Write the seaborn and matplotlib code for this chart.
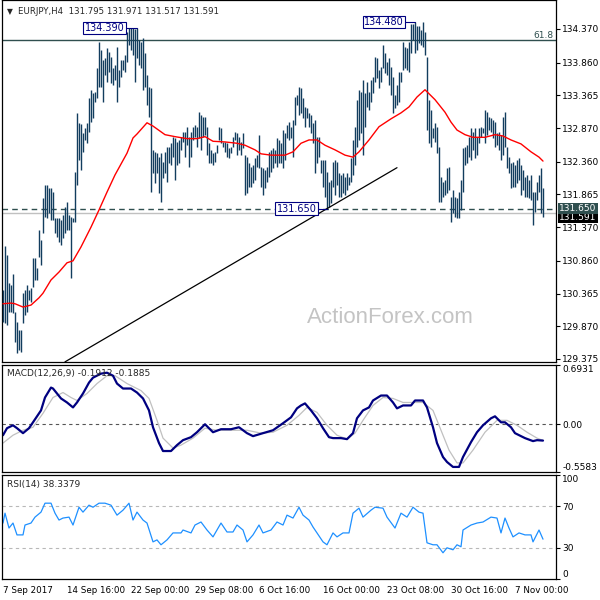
import matplotlib
matplotlib.use("Agg")
import numpy as np
import seaborn as sns
import matplotlib.pyplot as plt
import matplotlib.transforms as mtransforms

# EURJPY H4 bars, one per 4h period (index 0 = 7 Sep 2017 00:00)
highs = [
    130.42, 131.09, 130.95, 130.52, 130.49, 130.66, 130.09, 129.93, 129.81, 129.81,
    130.37, 130.42, 130.49, 130.42, 130.45, 130.90, 130.90, 130.75, 131.33, 131.18,
    131.81, 132.01, 132.01, 131.96, 131.96, 131.90, 131.51, 131.51, 131.51, 131.48,
    131.55, 131.68, 131.75, 131.55, 131.52, 131.51, 132.20, 133.10, 132.95, 132.93,
    132.80, 132.87, 132.95, 133.33, 133.45, 133.40, 133.42, 133.78, 134.17, 134.05,
    133.90, 133.93, 134.08, 134.02, 133.95, 133.78, 133.83, 134.10, 133.75, 133.90,
    133.90, 133.98, 134.32, 134.39, 134.39, 134.38, 134.37, 134.39, 134.20, 134.17,
    134.23, 134.01, 133.67, 133.49, 133.48, 132.54, 132.51, 132.49, 132.43, 132.49,
    132.36, 132.51, 132.58, 132.58, 132.64, 132.73, 132.72, 132.66, 132.69, 132.73,
    132.81, 132.81, 132.89, 132.73, 132.81, 132.89, 132.92, 132.89, 133.11, 133.07,
    133.04, 133.04, 132.89, 132.64, 132.54, 132.49, 132.51, 132.61, 132.89, 132.87,
    132.66, 132.66, 132.64, 132.57, 132.58, 132.73, 132.81, 132.80, 132.73, 132.66,
    132.80, 132.46, 132.43, 132.34, 132.28, 132.31, 132.42, 132.46, 132.76, 132.28,
    132.27, 132.23, 132.28, 132.51, 132.54, 132.57, 132.54, 132.72, 132.69, 132.64,
    132.84, 132.80, 132.92, 132.96, 132.89, 132.99, 133.34, 133.37, 133.49, 133.48,
    133.33, 133.19, 133.17, 133.10, 133.07, 132.95, 132.99, 132.73, 132.73, 132.39,
    132.39, 132.39, 132.20, 132.05, 132.08, 132.36, 132.39, 132.36, 132.19, 132.16,
    132.19, 132.13, 132.19, 132.13, 132.42, 132.69, 132.89, 133.30, 133.45, 133.42,
    133.60, 133.40, 133.57, 133.42, 133.60, 133.64, 133.95, 133.93, 133.75, 133.79,
    134.13, 134.01, 133.87, 133.93, 133.79, 133.64, 133.37, 133.52, 133.72, 133.72,
    134.17, 134.10, 134.08, 134.17, 134.45, 134.44, 134.48, 134.42, 134.42, 134.36,
    134.47, 134.32, 133.95, 133.30, 133.14, 132.87, 132.95, 132.89, 132.58, 132.13,
    132.05, 132.08, 132.27, 132.28, 131.83, 131.93, 131.83, 131.81, 131.90, 132.08,
    132.57, 132.58, 132.61, 132.73, 132.87, 132.81, 132.87, 132.73, 132.87, 132.89,
    132.87, 133.14, 133.11, 133.04, 133.02, 132.99, 132.96, 132.80, 132.81, 132.76,
    133.04, 133.11, 132.58, 132.43, 132.34, 132.36, 132.31, 132.39, 132.42, 132.31,
    132.23, 132.13, 132.16, 132.08, 132.16, 131.90, 131.90, 132.05, 132.16, 132.27,
    131.97,
]
lows = [
    129.93, 129.92, 129.89, 130.09, 130.09, 130.07, 129.63, 129.46, 129.51, 129.48,
    129.92, 130.04, 130.09, 130.27, 130.24, 130.46, 130.57, 130.57, 130.92, 130.80,
    131.28, 131.52, 131.51, 131.58, 131.48, 131.48, 131.28, 131.22, 131.15, 131.10,
    131.21, 131.28, 131.33, 131.33, 130.60, 131.45, 131.45, 132.01, 132.39, 132.23,
    132.51, 132.69, 132.64, 132.81, 132.96, 133.02, 133.27, 133.33, 133.49, 133.49,
    133.27, 133.67, 133.57, 133.72, 133.55, 133.52, 133.60, 133.27, 133.49, 133.64,
    133.75, 133.72, 133.87, 134.13, 134.05, 133.98, 133.57, 133.93, 133.83, 133.78,
    133.45, 133.49, 133.22, 133.04, 131.90, 132.19, 132.04, 132.19, 131.89, 131.75,
    132.11, 132.19, 132.05, 132.34, 132.31, 132.43, 132.08, 132.31, 132.34, 132.54,
    132.66, 132.43, 132.61, 132.28, 132.43, 132.69, 132.73, 132.58, 132.72, 132.54,
    132.73, 132.76, 132.46, 132.34, 132.34, 132.31, 132.36, 132.49, 132.69, 132.64,
    132.58, 132.51, 132.43, 132.42, 132.49, 132.58, 132.69, 132.46, 132.54, 132.46,
    132.57, 131.86, 131.89, 131.98, 131.98, 132.04, 132.08, 132.28, 132.27, 131.98,
    131.86, 131.96, 132.05, 132.13, 132.20, 132.27, 132.34, 132.28, 132.34, 132.34,
    132.27, 132.39, 132.72, 132.69, 132.72, 132.43, 132.92, 133.22, 133.07, 133.10,
    133.02, 132.89, 133.02, 132.89, 132.80, 132.64, 132.19, 132.34, 132.43, 132.19,
    131.98, 131.83, 131.65, 131.67, 131.74, 131.98, 131.86, 132.01, 131.83, 131.83,
    131.89, 131.86, 131.93, 132.01, 132.05, 132.16, 132.31, 132.58, 132.69, 132.80,
    132.46, 132.89, 133.19, 133.14, 133.27, 133.40, 133.57, 133.63, 133.48, 133.57,
    133.78, 133.70, 133.67, 133.52, 133.37, 133.10, 133.17, 133.22, 133.27, 133.57,
    133.75, 133.78, 133.75, 133.72, 134.01, 134.20, 134.01, 134.05, 134.16, 134.13,
    134.10, 133.98, 132.84, 132.64, 132.58, 132.72, 132.66, 132.49, 131.75, 131.75,
    131.83, 131.86, 131.89, 131.93, 131.45, 131.58, 131.52, 131.51, 131.51, 131.63,
    131.90, 132.31, 132.34, 132.43, 132.39, 132.54, 132.42, 132.46, 132.64, 132.73,
    132.80, 132.64, 132.76, 132.84, 132.81, 132.72, 132.58, 132.61, 132.54, 132.39,
    132.46, 132.58, 132.27, 132.19, 131.96, 131.98, 131.98, 132.04, 132.08, 131.86,
    131.93, 131.83, 131.83, 131.81, 131.78, 131.40, 131.60, 131.78, 131.90, 131.58,
    131.52,
]

# red moving average, sampled along the bars
ma_idx = [0, 4, 6, 10, 14, 18, 20, 24, 28, 32, 35, 39, 44, 48, 52, 56, 62, 65, 67, 72,
          75, 81, 86, 92, 97, 101, 105, 111, 117, 121, 126, 129, 134, 137, 141, 145, 149, 153, 157, 161,
          166, 171, 175, 178, 183, 188, 194, 199, 203, 207, 211, 216, 221, 224, 227, 231, 235, 241, 246, 250,
          254, 259, 264, 268, 270]
ma_val = [130.21, 130.22, 130.21, 130.16, 130.19, 130.30, 130.37, 130.57, 130.69, 130.83,
          130.86, 131.07, 131.37, 131.63, 131.90, 132.16, 132.49, 132.72, 132.78, 132.95,
          132.90, 132.77, 132.74, 132.71, 132.71, 132.74, 132.67, 132.66, 132.64, 132.61,
          132.54, 132.48, 132.46, 132.46, 132.46, 132.51, 132.64, 132.69, 132.69, 132.61,
          132.54, 132.46, 132.43, 132.51, 132.69, 132.89, 133.01, 133.10, 133.19, 133.34,
          133.45, 133.30, 133.11, 132.96, 132.84, 132.77, 132.73, 132.73, 132.77, 132.75,
          132.69, 132.63, 132.51, 132.43, 132.37]

# MACD(12,26,9)
macd_idx = [0, 2, 5, 7, 10, 13, 15, 19, 21, 24, 25, 29, 32, 35, 37, 40, 43, 45, 49, 52,
            55, 57, 60, 64, 67, 70, 73, 75, 78, 80, 84, 87, 90, 94, 97, 101, 105, 109, 114, 118,
            122, 125, 130, 135, 140, 144, 147, 149, 151, 154, 157, 160, 163, 165, 169, 172, 175, 177, 180, 183,
            185, 189, 192, 195, 197, 200, 204, 206, 210, 212, 215, 217, 220, 222, 225, 228, 230, 234, 237, 240,
            244, 246, 249, 251, 254, 256, 259, 261, 265, 267, 270]
macd_val = [-0.128, -0.046, -0.012, -0.046, -0.104, -0.046, 0.023, 0.162, 0.313, 0.429,
            0.418, 0.302, 0.255, 0.197, 0.255, 0.360, 0.487, 0.545, 0.592, 0.603,
            0.568, 0.476, 0.418, 0.418, 0.371, 0.302, 0.162, -0.035, -0.220, -0.313,
            -0.313, -0.244, -0.186, -0.151, -0.093, 0.000, -0.093, -0.058, -0.058, -0.035,
            -0.104, -0.139, -0.104, -0.070, 0.012, 0.081, 0.186, 0.220, 0.244, 0.162,
            0.070, -0.046, -0.151, -0.162, -0.162, -0.174, -0.104, 0.070, 0.162, 0.197,
            0.278, 0.336, 0.336, 0.255, 0.186, 0.220, 0.220, 0.278, 0.278, 0.197,
            -0.035, -0.220, -0.383, -0.441, -0.499, -0.499, -0.383, -0.209, -0.093, -0.012,
            0.070, 0.093, 0.023, 0.023, -0.035, -0.104, -0.139, -0.162, -0.197, -0.186,
            -0.191]
sig_idx = [0, 5, 10, 15, 20, 25, 30, 34, 37, 42, 47, 52, 56, 62, 69, 73, 77, 80, 85, 89,
           95, 101, 107, 115, 122, 129, 135, 142, 148, 152, 157, 162, 167, 172, 176, 180, 185, 190, 195, 200,
           206, 210, 215, 219, 223, 227, 230, 235, 241, 247, 252, 257, 262, 267, 270]
sig_val = [-0.220, -0.128, -0.070, -0.035, 0.128, 0.313, 0.371, 0.313, 0.278, 0.360,
           0.476, 0.568, 0.568, 0.476, 0.394, 0.302, 0.046, -0.162, -0.278, -0.244,
           -0.162, -0.046, -0.070, -0.070, -0.070, -0.104, -0.093, -0.012, 0.104, 0.197,
           0.139, -0.012, -0.128, -0.174, -0.104, 0.046, 0.220, 0.313, 0.302, 0.255,
           0.255, 0.255, 0.162, -0.070, -0.302, -0.452, -0.452, -0.302, -0.093, 0.046,
           0.046, -0.012, -0.093, -0.162, -0.189]

# RSI(14)
rsi_idx = [0, 1, 3, 5, 7, 10, 11, 14, 16, 19, 21, 24, 26, 28, 30, 33, 35, 38, 40, 43,
           45, 48, 51, 54, 57, 60, 63, 65, 67, 70, 72, 75, 77, 79, 82, 85, 89, 90, 94, 96,
           99, 102, 105, 109, 112, 115, 117, 120, 122, 125, 128, 130, 134, 137, 140, 142, 145, 148, 150, 153,
           155, 157, 160, 162, 165, 167, 170, 173, 175, 178, 180, 184, 186, 190, 192, 196, 199, 202, 205, 208,
           210, 212, 215, 217, 220, 222, 225, 227, 229, 230, 234, 237, 240, 244, 247, 249, 251, 253, 255, 258,
           261, 264, 265, 268, 270]
rsi_val = [53.8, 63.3, 49.0, 53.8, 42.4, 42.4, 51.9, 53.8, 59.5, 64.3,
           72.9, 72.9, 63.3, 56.7, 58.6, 59.5, 51.9, 69.0, 64.3, 71.0,
           69.0, 72.9, 72.9, 71.0, 61.4, 66.2, 72.9, 56.7, 64.3, 56.7,
           53.8, 35.7, 37.6, 32.9, 37.6, 44.3, 44.3, 47.1, 44.3, 51.9,
           54.8, 47.1, 40.5, 53.8, 45.2, 45.2, 51.9, 47.1, 35.7, 42.4,
           51.9, 44.3, 47.1, 54.8, 51.9, 61.4, 58.6, 69.0, 61.4, 56.7,
           50.0, 44.3, 35.7, 32.9, 44.3, 40.5, 44.3, 44.3, 63.3, 68.1,
           59.5, 66.2, 69.0, 68.1, 59.5, 49.0, 63.3, 59.5, 69.0, 64.3,
           63.3, 34.8, 32.9, 32.9, 25.2, 30.0, 28.1, 32.9, 31.0, 47.1,
           51.9, 53.8, 54.8, 59.5, 58.6, 44.3, 58.6, 49.0, 40.5, 44.3,
           42.4, 42.4, 35.7, 47.1, 38.3]

# trend line drawn on the chart (bar index, price)
trend_idx = [31, 197]
trend_price = [129.33, 132.27]

fib_level = 134.20
support_level = 131.650
bid_price = 131.591

price_ticks = [129.375, 129.870, 130.365, 130.860, 131.370, 131.865,
               132.360, 132.870, 133.365, 133.860, 134.370]
date_ticks = [0, 32, 64, 96, 128, 160, 192, 224, 256]
date_labels = ["7 Sep 2017", "14 Sep 16:00", "22 Sep 00:00", "29 Sep 08:00", "6 Oct 16:00",
               "16 Oct 00:00", "23 Oct 08:00", "30 Oct 16:00", "7 Nov 00:00"]

sns.set_style("white")
plt.rcParams['font.family'] = ['DejaVu Sans']

BAR = '#123d5e'
SLATE = '#2f4f4f'
FS = 6.5

fig = plt.figure(figsize=(6, 6), dpi=100)


def panel(top, bottom):
    # panel placement in pixels from the top of a 600px canvas
    return fig.add_axes([2 / 600, 1 - bottom / 600, 554 / 600, (bottom - top) / 600])


ax = panel(0, 362)
ax_m = panel(365, 472)
ax_r = panel(475, 579)

for a in (ax, ax_m, ax_r):
    a.set_xlim(-0.5, 276.5)
    a.set_facecolor('white')
    for s in a.spines.values():
        s.set_color('black')
        s.set_linewidth(0.9)
    a.yaxis.tick_right()
    a.tick_params(axis='y', labelsize=FS, length=3, width=0.8, pad=1.5,
                  colors='black', direction='out')

# ---- main price panel ----
ax.set_ylim(129.328, 134.809)
ax.axhline(bid_price, color='#c0c0c0', lw=1, zorder=1)
ax.axhline(fib_level, color=SLATE, lw=1, zorder=1)
ax.axhline(support_level, color=SLATE, lw=1, ls=(0, (4, 3)), zorder=1)

bar_idx = np.arange(len(highs))
ax.vlines(bar_idx, lows, highs, color=BAR, lw=1.0, zorder=3)
sns.lineplot(x=ma_idx, y=ma_val, ax=ax, color='red', lw=1.0,
             estimator=None, errorbar=None, legend=False, zorder=4)
ax.plot(trend_idx, trend_price, color='black', lw=0.9, zorder=4)

ax.text(193.5, 129.995, 'ActionForex.com', fontsize=16, family=['Liberation Sans', 'DejaVu Sans'],
        color='#c4c4c4', ha='center', va='center', zorder=0)

box = dict(boxstyle='square,pad=0.12', fc='white', ec='#000080', lw=0.8)
ax.plot([61.5, 67], [134.39, 134.39], color='#000080', lw=0.8, zorder=5)
ax.text(50.75, 134.39, '134.390', fontsize=7, color='#000080', ha='center', va='center',
        bbox=box, zorder=6)
ax.plot([201, 206], [134.48, 134.48], color='#000080', lw=0.8, zorder=5)
ax.text(190.5, 134.48, '134.480', fontsize=7, color='#000080', ha='center', va='center',
        bbox=box, zorder=6)
ax.plot([157.5, 162], [support_level, support_level], color='#000080', lw=0.8, zorder=5)
ax.text(146.75, support_level, '131.650', fontsize=7, color='#000080', ha='center', va='center',
        bbox=box, zorder=6)

ax.set_yticks(price_ticks)
ax.set_yticklabels([f'{v:.3f}' for v in price_ticks])
ax.set_xticks([])

blend = mtransforms.blended_transform_factory(ax.transAxes, ax.transData)
ax.text(0.995, fib_level, '61.8', transform=blend, ha='right', va='bottom',
        fontsize=FS, color=SLATE)
# bid label sits just under the support label on the price scale
ax.text(1.006, bid_price - 0.07, f'{bid_price:.3f}', transform=blend, ha='left', va='center',
        fontsize=FS, color='white', clip_on=False, zorder=7,
        bbox=dict(boxstyle='square,pad=0.15', fc='black', ec='none'))
ax.text(1.006, support_level, f'{support_level:.3f}', transform=blend, ha='left', va='center',
        fontsize=FS, color='white', clip_on=False, zorder=8,
        bbox=dict(boxstyle='square,pad=0.15', fc=SLATE, ec='none'))

ax.text(0.009, 0.967, '\u25bc', transform=ax.transAxes, fontsize=5.5, va='center', ha='left')
ax.text(0.029, 0.967, 'EURJPY,H4  131.795 131.971 131.517 131.591', transform=ax.transAxes,
        fontsize=6.2, va='center', ha='left')

# ---- MACD panel ----
ax_m.set_ylim(-0.5583, 0.6931)
ax_m.axhline(0, color='#555555', lw=0.8, ls=(0, (3, 3)))
sns.lineplot(x=sig_idx, y=sig_val, ax=ax_m, color='#c0c0c0', lw=0.9,
             estimator=None, errorbar=None, legend=False)
sns.lineplot(x=macd_idx, y=macd_val, ax=ax_m, color='#000080', lw=1.6,
             estimator=None, errorbar=None, legend=False)
ax_m.set_yticks([-0.5583, 0.0, 0.6931])
ax_m.set_yticklabels(['-0.5583', '0.00', '0.6931'])
ml = ax_m.get_yticklabels()
ml[0].set_va('bottom')
ml[2].set_va('top')
ax_m.set_xticks([])
ax_m.text(0.009, 0.925, 'MACD(12,26,9) -0.1912 -0.1885', transform=ax_m.transAxes,
          fontsize=FS, va='center', ha='left')

# ---- RSI panel ----
ax_r.set_ylim(0, 100)
ax_r.axhline(70, color='#b8b8b8', lw=0.8, ls=(0, (3, 3)))
ax_r.axhline(30, color='#b8b8b8', lw=0.8, ls=(0, (3, 3)))
sns.lineplot(x=rsi_idx, y=rsi_val, ax=ax_r, color='#1e90ff', lw=0.9,
             estimator=None, errorbar=None, legend=False)
ax_r.set_yticks([0, 30, 70, 100])
ax_r.set_yticklabels(['0', '30', '70', '100'])
rl = ax_r.get_yticklabels()
rl[0].set_va('bottom')
rl[3].set_va('top')
ax_r.text(0.009, 0.913, 'RSI(14) 38.3379', transform=ax_r.transAxes,
          fontsize=FS, va='center', ha='left')
ax_r.set_xticks(date_ticks)
ax_r.set_xticklabels(date_labels, ha='left')
ax_r.tick_params(axis='x', labelsize=6.3, length=3, width=0.8, pad=2, colors='black',
                 direction='out')

for a in (ax, ax_m, ax_r):
    a.set_xlabel('')
    a.set_ylabel('')

fig.savefig('out.png', dpi=100)
